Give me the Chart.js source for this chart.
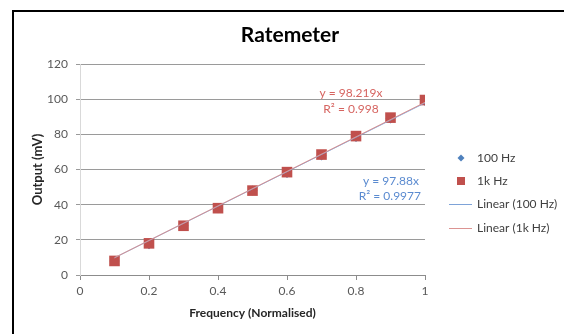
<!DOCTYPE html>
<html>
<head>
<meta charset="utf-8">
<script src="https://cdn.jsdelivr.net/npm/chart.js@4"></script>
<style>
  html, body { margin: 0; padding: 0; background: #fff; overflow: hidden; }
  #wrap { position: relative; width: 564px; height: 334px; }
  #frame { position: absolute; left: 12px; top: 10px; width: 600px; height: 400px; border: 2px solid #000; box-sizing: border-box; }
  canvas { position: absolute; left: 0; top: 0; }
</style>
</head>
<body>
<div id="wrap">
  <div id="frame"></div>
  <canvas id="c" width="564" height="334"></canvas>
</div>
<script>
// ---- data ----
const freq = [0.1, 0.2, 0.3, 0.4, 0.5, 0.6, 0.7, 0.8, 0.9, 1.0];
const out1k = [8, 18, 28, 38, 48, 58.5, 68.5, 79, 89.5, 99.5];
const out100 = [8, 17.5, 28, 38, 48, 58, 68, 78.5, 89, 99];
const trendX = [0.1, 1.0];
const trend1k = [9.82, 98.22];
const trend100 = [9.79, 97.88];
const xTickLabels = ['0', '0.2', '0.4', '0.6', '0.8', '1'];
const seriesNames = ['100 Hz', '1k Hz', 'Linear (100 Hz)', 'Linear (1k Hz)'];
const eq1k = ['y = 98.219x', 'R² = 0.998'];
const eq100 = ['y = 97.88x', 'R² = 0.9977'];
const titleText = 'Ratemeter';
const xTitle = 'Frequency (Normalised)';
const yTitle = 'Output (mV)';

const FONT = 'Lato, "Open Sans", sans-serif';
const RED = '#c0504d', BLUE = '#4f81bd';
const RED_T = '#dc9492', BLUE_T = '#7ea3d8';

const pts = (xs, ys) => xs.map((x, i) => ({ x: x, y: ys[i] }));

const overlay = {
  id: 'overlay',
  afterDraw(chart) {
    const ctx = chart.ctx;
    ctx.save();
    // title
    ctx.fillStyle = '#000';
    ctx.font = 'bold 21px ' + FONT;
    ctx.textAlign = 'center';
    ctx.textBaseline = 'middle';
    ctx.fillText(titleText, 290, 35);
    // equations
    ctx.font = '12px ' + FONT;
    ctx.fillStyle = '#d66460';
    ctx.textAlign = 'center';
    ctx.fillText(eq1k[0], 351, 93);
    ctx.fillText(eq1k[1], 351, 109);
    ctx.fillStyle = '#5b8bd0';
    ctx.textAlign = 'right';
    ctx.fillText(eq100[0], 419, 181);
    ctx.fillText(eq100[1], 421, 196);
    // legend
    const rows = [158, 181, 204, 228];
    ctx.font = '12px ' + FONT;
    ctx.fillStyle = '#404040';
    ctx.textAlign = 'left';
    rows.forEach((y, i) => ctx.fillText(seriesNames[i], 477, y));
    // diamond
    ctx.fillStyle = BLUE;
    ctx.beginPath();
    ctx.moveTo(461, rows[0] - 3.5); ctx.lineTo(464.5, rows[0]); ctx.lineTo(461, rows[0] + 3.5); ctx.lineTo(457.5, rows[0]);
    ctx.closePath(); ctx.fill();
    // square
    ctx.fillStyle = RED;
    ctx.fillRect(457, rows[1] - 4, 8, 8);
    // lines
    ctx.lineWidth = 1;
    ctx.strokeStyle = BLUE_T;
    ctx.beginPath(); ctx.moveTo(449, rows[2] + 0.5); ctx.lineTo(472, rows[2] + 0.5); ctx.stroke();
    ctx.strokeStyle = RED_T;
    ctx.beginPath(); ctx.moveTo(449, rows[3] + 0.5); ctx.lineTo(472, rows[3] + 0.5); ctx.stroke();
    ctx.restore();
  }
};

new Chart(document.getElementById('c'), {
  type: 'scatter',
  data: {
    datasets: [
      { label: seriesNames[3], data: pts(trendX, trend1k), showLine: true, borderColor: RED_T, borderWidth: 1, pointRadius: 0 },
      { label: seriesNames[2], data: pts(trendX, trend100), showLine: true, borderColor: BLUE_T, borderWidth: 1, pointRadius: 0 },
      { label: seriesNames[1], data: pts(freq, out1k), pointStyle: 'rect', pointRadius: 7.5, backgroundColor: RED, borderColor: RED, borderWidth: 0 },
      { label: seriesNames[0], data: pts(freq, out100), pointStyle: 'rectRot', pointRadius: 5, backgroundColor: BLUE, borderColor: BLUE, borderWidth: 0 }
    ]
  },
  options: {
    responsive: false,
    animation: false,
    devicePixelRatio: 1,
    layout: { padding: { left: 14, top: 64, right: 139, bottom: 0 } },
    plugins: { legend: { display: false }, tooltip: { enabled: false }, title: { display: false } },
    scales: {
      x: {
        type: 'linear', min: 0, max: 1,
        ticks: { stepSize: 0.2, color: '#595959', font: { family: FONT, size: 12 }, padding: 4,
                 callback: (v, i) => xTickLabels[i] },
        grid: { drawOnChartArea: false, drawTicks: true, tickLength: 5, color: '#8c8c8c' },
        border: { color: '#8c8c8c' },
        title: { display: true, text: xTitle, color: '#262626', font: { family: FONT, size: 12, weight: 'bold' }, padding: { top: 0, bottom: 14 } },
        afterFit(s) { s.height = 59; }
      },
      y: {
        min: 0, max: 120,
        ticks: { stepSize: 20, color: '#595959', font: { family: FONT, size: 12 }, padding: 8 },
        grid: { color: '#9a9a9a', tickLength: 4 },
        border: { color: '#d9d9d9' },
        title: { display: true, text: yTitle, color: '#262626', font: { family: FONT, size: 13, weight: 'bold' }, padding: { top: 16, bottom: 0 } },
        afterFit(s) { s.width = 66; }
      }
    }
  },
  plugins: [overlay]
});
</script>
</body>
</html>
